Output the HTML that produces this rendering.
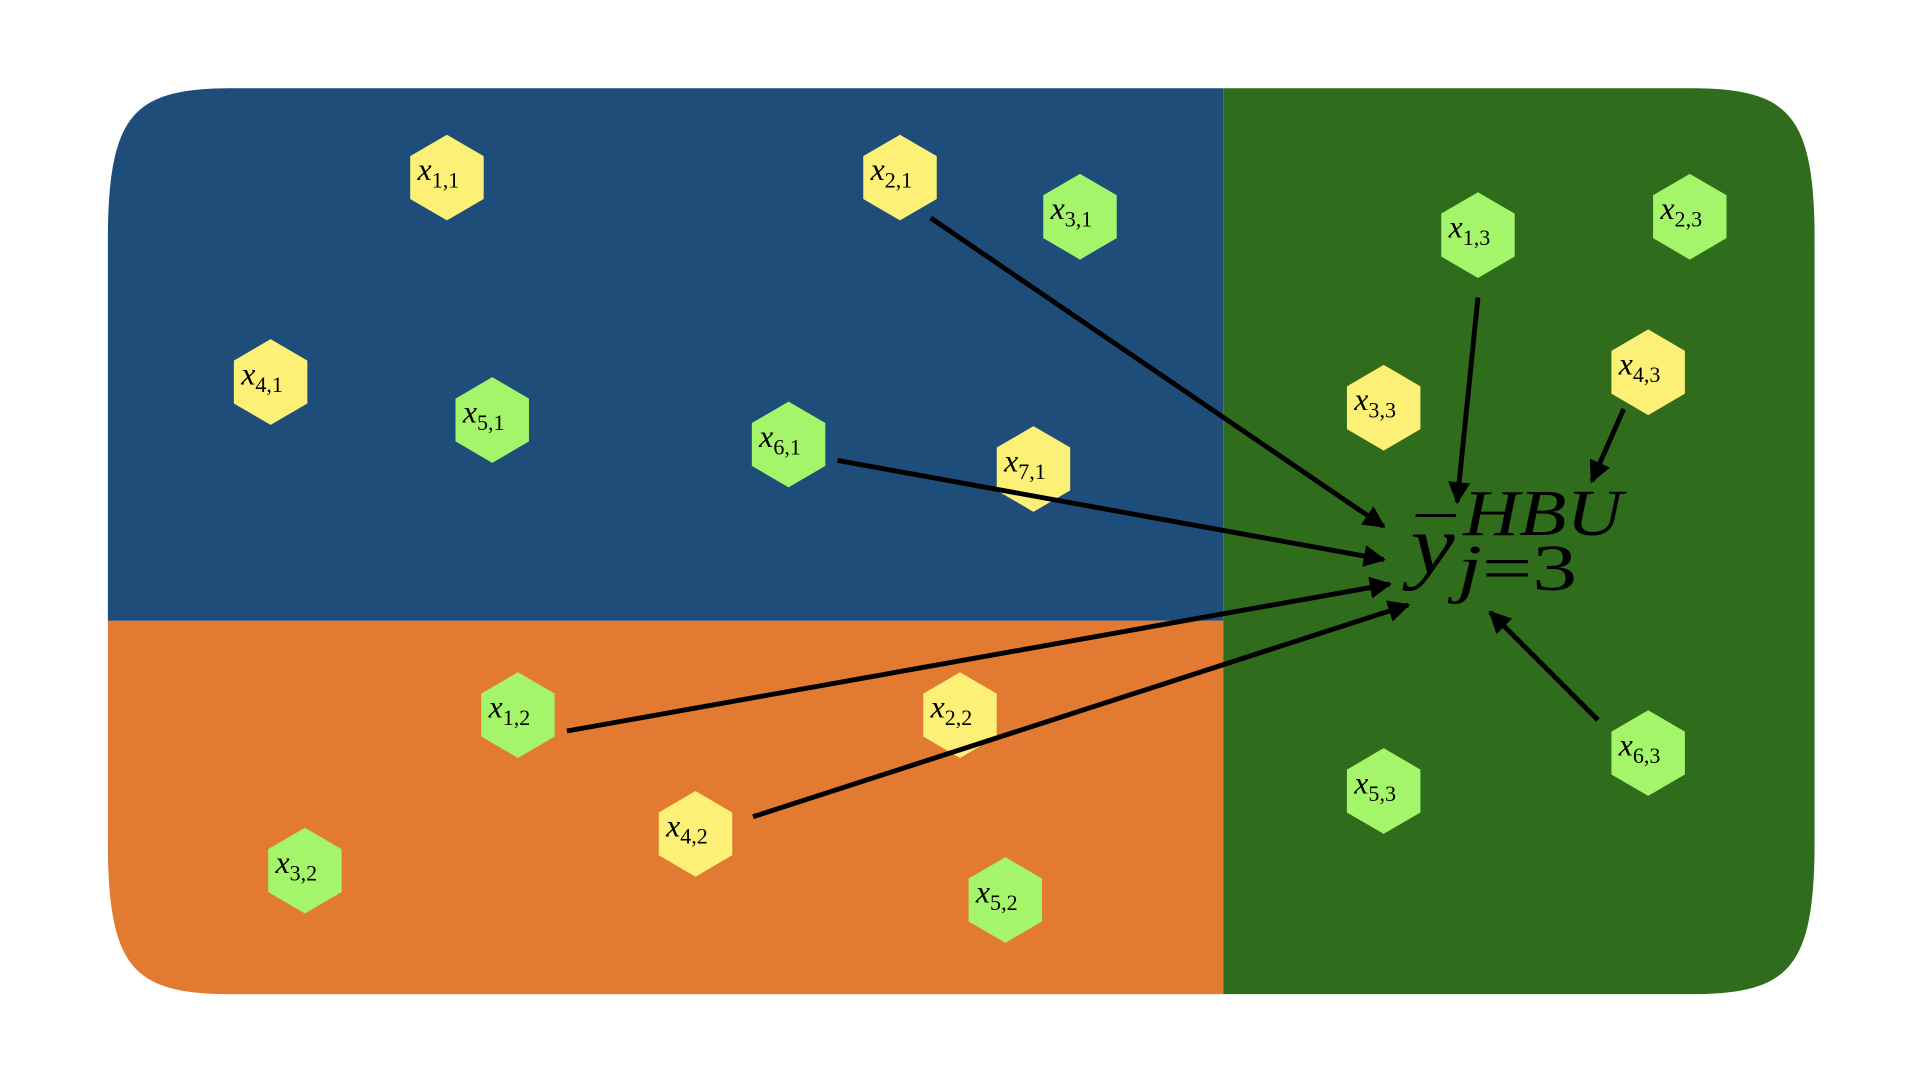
<!DOCTYPE html>
<html><head><meta charset="utf-8"><style>
html,body{margin:0;padding:0;background:#fff;width:1920px;height:1080px;overflow:hidden}
svg{display:block}
text{font-family:"Liberation Serif",serif;fill:#000}
</style></head><body>
<svg id="diagram" width="1920" height="1080" viewBox="0 0 1568 882" preserveAspectRatio="none" xmlns="http://www.w3.org/2000/svg">
<defs>
<clipPath id="clip"><path d="M88,200 C88,92 108,72 192,72 L1378,72 C1462,72 1482,92 1482,200 L1482,684 C1482,792 1462,812 1378,812 L192,812 C108,812 88,792 88,684 Z"/></clipPath>
<marker id="ah" viewBox="0 0 10 10" refX="9" refY="5" markerWidth="5" markerHeight="4.5" orient="auto" markerUnits="strokeWidth"><path d="M0,0 L10,5 L0,10 z" fill="#000"/></marker>
</defs>
<g clip-path="url(#clip)">
<rect x="80" y="60" width="919" height="447" fill="#1f4d7a"/>
<rect x="80" y="507" width="919" height="320" fill="#e27a31"/>
<rect x="999" y="60" width="500" height="770" fill="#2f6d1d"/>
</g>
<g id="nodes"></g>
<g id="arrows"></g>
<g>
<line x1="1156" y1="421" x2="1189" y2="421" stroke="#000" stroke-width="2.5"/>
<text x="1152" y="468" font-size="68" font-style="italic" textLength="36" lengthAdjust="spacingAndGlyphs">y</text>
<text x="1195" y="437" font-size="54" font-style="italic" textLength="130" lengthAdjust="spacingAndGlyphs">HBU</text>
<text x="1190" y="482" font-size="54" textLength="98" lengthAdjust="spacingAndGlyphs"><tspan font-style="italic">j</tspan>=3</text>
</g>
</svg>
<script>
const labels=["1,1","2,1","3,1","4,1","5,1","6,1","7,1","1,3","2,3","3,3","4,3","1,2","2,2","3,2","4,2","5,2","5,3","6,3"];
const nodeX=[365,735,882,221,402,644,844,1207,1380,1130,1346,423,784,249,568,821,1130,1346];
const nodeY=[145,145,177,312,343,363,383,192,177,333,304,584,584,711,681,735,646,615];
const nodeKind=["y","y","g","y","g","g","y","g","g","y","y","g","y","g","y","g","g","g"];
const arrowFromX=[760,684,463,615,1207,1326,1305];
const arrowFromY=[178,376,597,667,243,334,588];
const arrowToX=[1130,1130,1135,1150,1190,1300,1217];
const arrowToY=[430,457,477,494,410,393,500];
const NS="http://www.w3.org/2000/svg";
const ng=document.getElementById('nodes');
for(let i=0;i<labels.length;i++){
  const cx=nodeX[i],cy=nodeY[i];
  const g=document.createElementNS(NS,'g');
  
  
  const p=document.createElementNS(NS,'polygon');
  const pts=[[0,-35],[30,-17.5],[30,17.5],[0,35],[-30,17.5],[-30,-17.5]].map(q=>(cx+q[0])+','+(cy+q[1])).join(' ');
  p.setAttribute('points',pts);
  p.setAttribute('fill',nodeKind[i]==='y'?'#fdf076':'#a5f56a');
  
  
  g.appendChild(p);
  const t=document.createElementNS(NS,'text');
  t.setAttribute('x',cx-24);t.setAttribute('y',cy+2);
  t.setAttribute('font-size','26');
  
  
  const a=document.createElementNS(NS,'tspan');a.setAttribute('font-style','italic');a.textContent='x';
  const b=document.createElementNS(NS,'tspan');b.setAttribute('font-size','18');b.setAttribute('dy','6');b.textContent=labels[i];
  t.appendChild(a);t.appendChild(b);g.appendChild(t);
  ng.appendChild(g);
}
const ag=document.getElementById('arrows');
for(let i=0;i<arrowFromX.length;i++){
  const l=document.createElementNS(NS,'line');
  l.setAttribute('x1',arrowFromX[i]);l.setAttribute('y1',arrowFromY[i]);
  l.setAttribute('x2',arrowToX[i]);l.setAttribute('y2',arrowToY[i]);
  l.setAttribute('stroke','#000');l.setAttribute('stroke-width','4');
  l.setAttribute('marker-end','url(#ah)');
  
  
  ag.appendChild(l);
}
</script>
</body></html>
